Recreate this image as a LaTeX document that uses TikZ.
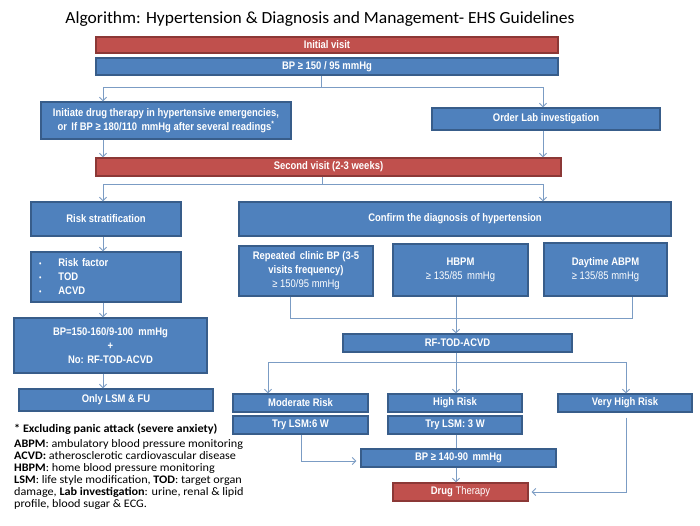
\documentclass[tikz,border=0pt]{standalone}
\usepackage{fontspec}
\setmainfont{Liberation Sans}
\newfontfamily\boxfont[FakeStretch=0.86]{Liberation Sans}
\newfontfamily\notefont[FakeStretch=1.06]{Carlito}
\newfontfamily\titlefont[FakeStretch=1.03]{Carlito}
\usetikzlibrary{arrows.meta}
\definecolor{bfill}{HTML}{4F81BD}
\definecolor{bline}{HTML}{385D8A}
\definecolor{rfill}{HTML}{C0504D}
\definecolor{rline}{HTML}{8C3836}
\definecolor{conn}{HTML}{7B9CC4}
\tikzset{
  bbox/.style={draw=bline, fill=bfill, line width=1.3pt, inner sep=1pt, text=white,
    font=\boxfont\fontsize{11}{14}\selectfont\bfseries, align=center},
  rbox/.style={bbox, draw=rline, fill=rfill},
  cline/.style={draw=conn, line width=0.9pt},
  carr/.style={cline, -{Straight Barb[length=3.5pt,width=7pt]}},
}
\begin{document}
\begin{tikzpicture}[x=1pt,y=-1pt]
\useasboundingbox[fill=white] (0,0) rectangle (700,525);

\node[font=\titlefont\fontsize{17}{19}\selectfont] (title) at (320,19) {Algorithm: Hypertension \& Diagnosis and Management- EHS Guidelines};

\node[rbox, minimum width=462pt, minimum height=16pt] (init) at (327,45) {Initial visit};
\node[bbox, minimum width=462pt, minimum height=17pt] (bp1) at (327,66.5) {BP ≥ 150 / 95 mmHg};
\node[bbox, minimum width=250pt, minimum height=37pt] (initiate) at (166,120.5) {Initiate drug therapy in hypertensive emergencies,\\ or\, If BP ≥ 180/110\, mmHg after several readings\textsuperscript{*}};
\node[bbox, minimum width=228pt, minimum height=22pt] (lab) at (546,119) {Order Lab investigation};
\node[rbox, minimum width=465pt, minimum height=18pt] (second) at (328.5,167) {Second visit (2-3 weeks)};
\node[bbox, minimum width=150pt, minimum height=34pt] (risk) at (106,219) {Risk stratification};
\node[bbox, minimum width=432pt, minimum height=34pt] (confirm) at (455,219) {Confirm the diagnosis of hypertension};
\node[bbox, minimum width=150pt, minimum height=50pt, text width=134pt, inner xsep=8pt, align=left] (bullets) at (106,277)
  {{\mdseries\footnotesize •}\hspace{17pt}Risk factor\\{\mdseries\footnotesize •}\hspace{17pt}TOD\\{\mdseries\footnotesize •}\hspace{17pt}ACVD};
\node[bbox, minimum width=193pt, minimum height=55pt] (bp2) at (110.5,345.5) {BP=150-160/9-100\ \ mmHg\\ +\\ No: RF-TOD-ACVD};
\node[bbox, minimum width=194pt, minimum height=22pt] (only) at (116,400) {Only LSM \& FU};

\node[bbox, minimum width=134pt, minimum height=50pt] (clinic) at (306,271) {Repeated\, clinic BP (3-5\\ visits frequency)\\ \mdseries ≥ 150/95 mmHg};
\node[bbox, minimum width=135pt, minimum height=52pt] (hbpm) at (460.5,270) {HBPM\\ \mdseries ≥ 135/85\, mmHg};
\node[bbox, minimum width=123pt, minimum height=53pt] (abpm) at (605.5,269.5) {Daytime ABPM\\ \mdseries ≥ 135/85 mmHg};
\node[bbox, minimum width=229pt, minimum height=18pt] (rf) at (457.5,343) {RF-TOD-ACVD};
\node[bbox, minimum width=135pt, minimum height=18pt] (mod) at (300.5,403) {Moderate Risk};
\node[bbox, minimum width=134pt, minimum height=18pt] (high) at (455,403) {High Risk};
\node[bbox, minimum width=134pt, minimum height=18pt] (vhigh) at (625,403) {Very High Risk};
\node[bbox, minimum width=135pt, minimum height=18pt] (try6) at (300.5,425) {Try LSM:6 W};
\node[bbox, minimum width=134pt, minimum height=18pt] (try3) at (455,425) {Try LSM: 3 W};
\node[bbox, minimum width=195pt, minimum height=18pt] (bp3) at (458.5,458) {BP ≥ 140-90\, mmHg};
\node[rbox, minimum width=135pt, minimum height=18pt] (drug) at (460.5,492) {Drug \mdseries Therapy};

\node[anchor=north west, inner sep=0pt, align=left, font=\notefont\fontsize{11.5}{12}\selectfont] (notes) at (14,424)
{\textbf{* Excluding panic attack (severe anxiety)}\\[2.5pt]
\textbf{ABPM}: ambulatory blood pressure monitoring\\
\textbf{ACVD:} atherosclerotic cardiovascular disease\\
\textbf{HBPM}: home blood pressure monitoring\\
\textbf{LSM}: life style modification, \textbf{TOD}: target organ\\
damage, \textbf{Lab investigation}: urine, renal \& lipid\\
profile, blood sugar \& ECG.};

% connectors
\coordinate (aM) at (321,87);
\coordinate (aL) at (103,87);
\coordinate (aR) at (543,87);
\draw[cline] (bp1.south -| aM) -- (aM);
\draw[cline] (aL) -- (aR);
\draw[carr] (aL) -- (aL |- initiate.north);
\draw[carr] (aR) -- (aR |- lab.north);
\draw[carr] (initiate.south -| aL) -- (second.north -| aL);
\draw[carr] (lab.south -| aR) -- (second.north -| aR);

\coordinate (bM) at (322,184);
\coordinate (bL) at (103,184);
\coordinate (bR) at (543,184);
\draw[cline] (second.south -| bM) -- (bM);
\draw[cline] (bL) -- (bR);
\draw[carr] (bL) -- (bL |- risk.north);
\draw[carr] (bR) -- (bR |- confirm.north);
\draw[carr] (risk.south -| bL) -- (bullets.north -| bL);
\draw[carr] (bullets.south -| bL) -- (bp2.north -| bL);
\draw[carr] (bp2.south -| bL) -- (only.north -| bL);

\coordinate (cL) at (290,318);
\coordinate (cR) at (632,318);
\coordinate (cM) at (456,318);
\draw[cline] (clinic.south -| cL) -- (cL) -- (cR) -- (abpm.south -| cR);
\draw[carr] (hbpm.south -| cM) -- (rf.north -| cM);

\coordinate (dM) at (456,362);
\coordinate (dL) at (268,362);
\coordinate (dR) at (626,362);
\draw[cline] (rf.south -| dM) -- (dM);
\draw[cline] (dL) -- (dR);
\draw[carr] (dL) -- (dL |- mod.north);
\draw[carr] (dM) -- (dM |- high.north);
\draw[carr] (dR) -- (dR |- vhigh.north);

\coordinate (e6) at (301,461);
\draw[carr] (try6.south -| e6) -- (e6) -- ([xshift=-4pt]bp3.west |- e6);
\draw[cline] (try3.south -| dM) -- (bp3.north -| dM);
\draw[carr] (bp3.south -| dM) -- (drug.north -| dM);
\coordinate (fR) at (626,492);
\draw[carr] ([yshift=-5pt]vhigh.south -| fR) -- (fR) -- ([xshift=3pt]drug.east);
\end{tikzpicture}
\end{document}
